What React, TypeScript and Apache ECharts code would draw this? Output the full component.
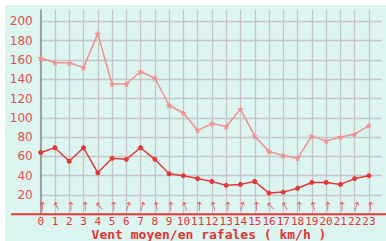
import React, { useEffect, useRef } from "react";
import * as echarts from "echarts";

const hours = [0,1,2,3,4,5,6,7,8,9,10,11,12,13,14,15,16,17,18,19,20,21,22,23];
const gusts = [162,157,157,152,187,135,135,148,141,113,105,87,94,91,109,81,65,61,58,81,76,80,83,92];
const meanWind = [64,69,55,69,43,58,57,69,57,42,40,37,34,30,31,34,22,23,27,33,33,31,37,40];
// wind direction arrow rotation (degrees, counter-clockwise from north-up)
const arrowRot = [0,25,0,0,40,0,-20,-20,10,0,20,0,15,0,-15,0,45,30,0,15,0,0,-20,0];
const ARROW_LEVEL = 8.5;
const yTicks = [20,40,60,80,100,120,140,160,180,200];
const xTitle = "Vent moyen/en rafales ( km/h )";

const W = 386, H = 241;
const LEFT = 40.7;
const AXIS_Y = 214.3;
const PX_PER_H = 14.27;
const PLOT_RIGHT = 381.7;

const STAR = "path://M5,0 L6.2,3.6 L10,3.8 L7,6.2 L8.1,10 L5,7.8 L1.9,10 L3,6.2 L0,3.8 L3.8,3.6 Z";
const ARROW = "path://M5,0 L10,5 L5.7,3.4 L5.7,14 L4.3,14 L4.3,3.4 L0,5 Z";

export default function App() {
  const ref = useRef<HTMLDivElement>(null);
  useEffect(() => {
    if (!ref.current) return;
    const chart = echarts.init(ref.current, null, { renderer: "svg" });
    const xmax = (PLOT_RIGHT - LEFT) / PX_PER_H;
    chart.setOption({
      animation: false,
      backgroundColor: "#ffffff",
      graphic: [
        { type: "rect", z: -10, silent: true, shape: { x: 5, y: 5, width: W - 5, height: H - 5 }, style: { fill: "#dcf5f0" } },
        { type: "line", z: 50, shape: { x1: 11, y1: AXIS_Y, x2: W, y2: AXIS_Y }, style: { stroke: "#e43c3c", lineWidth: 2 } },
        { type: "text", z: 50, x: 209, y: 234.8, style: { text: xTitle, fill: "#e03434", font: "bold 13px 'DejaVu Sans Mono', monospace", textAlign: "center", textVerticalAlign: "middle" } },
      ],
      grid: [
        { left: LEFT, right: W - (LEFT + 23 * PX_PER_H), top: 10, bottom: H - AXIS_Y },
        { left: LEFT, right: W - PLOT_RIGHT, top: AXIS_Y - 200 * 0.965, bottom: H - AXIS_Y },
      ],
      xAxis: [
        {
          gridIndex: 0, type: "value", min: 0, max: 23, interval: 1,
          axisLine: { show: false }, axisTick: { show: false }, axisLabel: { show: false },
          splitLine: { show: true, lineStyle: { color: "#c6c6c6", width: 1.3 } },
        },
        {
          gridIndex: 1, type: "value", min: 0, max: xmax, interval: 1,
          axisLine: { show: false }, axisTick: { show: false },
          splitLine: { show: false },
          axisLabel: {
            show: true, margin: 2, color: "#e03434",
            fontFamily: "'DejaVu Sans Mono', monospace", fontSize: 11,
            showMaxLabel: false, hideOverlap: false,
            formatter: (v: number) => (Number.isInteger(v) && hours.includes(v) ? String(v) : ""),
          },
        },
      ],
      yAxis: [
        {
          gridIndex: 0, type: "value", min: 0, max: 10,
          axisLine: { show: true, lineStyle: { color: "#909090", width: 1.5 } },
          axisTick: { show: false }, axisLabel: { show: false }, splitLine: { show: false },
        },
        {
          gridIndex: 1, type: "value", min: 0, max: 200, interval: 20,
          axisLine: { show: false }, axisTick: { show: false },
          splitLine: { show: true, lineStyle: { color: "#c6c6c6", width: 1.3 } },
          axisLabel: {
            margin: 8, color: "#e05050", fontSize: 12, fontFamily: "'DejaVu Sans', sans-serif",
            formatter: (v: number) => (yTicks.includes(v) ? String(v) : ""),
          },
        },
      ],
      series: [
        {
          type: "line", xAxisIndex: 1, yAxisIndex: 1,
          data: hours.map((h, i) => [h, gusts[i]]),
          lineStyle: { color: "#f29090", width: 1.5 },
          itemStyle: { color: "#f29090" },
          symbol: STAR, symbolSize: 7, showSymbol: true,
        },
        {
          type: "line", xAxisIndex: 1, yAxisIndex: 1,
          data: hours.map((h, i) => [h, meanWind[i]]),
          lineStyle: { color: "#e43838", width: 1.5 },
          itemStyle: { color: "#e43838" },
          symbol: "circle", symbolSize: 5, showSymbol: true,
        },
        {
          type: "scatter", xAxisIndex: 1, yAxisIndex: 1,
          data: hours.map((h, i) => ({ value: [h + 0.12, ARROW_LEVEL], symbolRotate: arrowRot[i] })),
          symbol: ARROW, symbolSize: [6, 9],
          itemStyle: { color: "#e43c3c" },
        },
      ],
    });
    return () => chart.dispose();
  }, []);
  return <div ref={ref} style={{ position: "absolute", left: 0, top: 0, width: W, height: H }} />;
}
